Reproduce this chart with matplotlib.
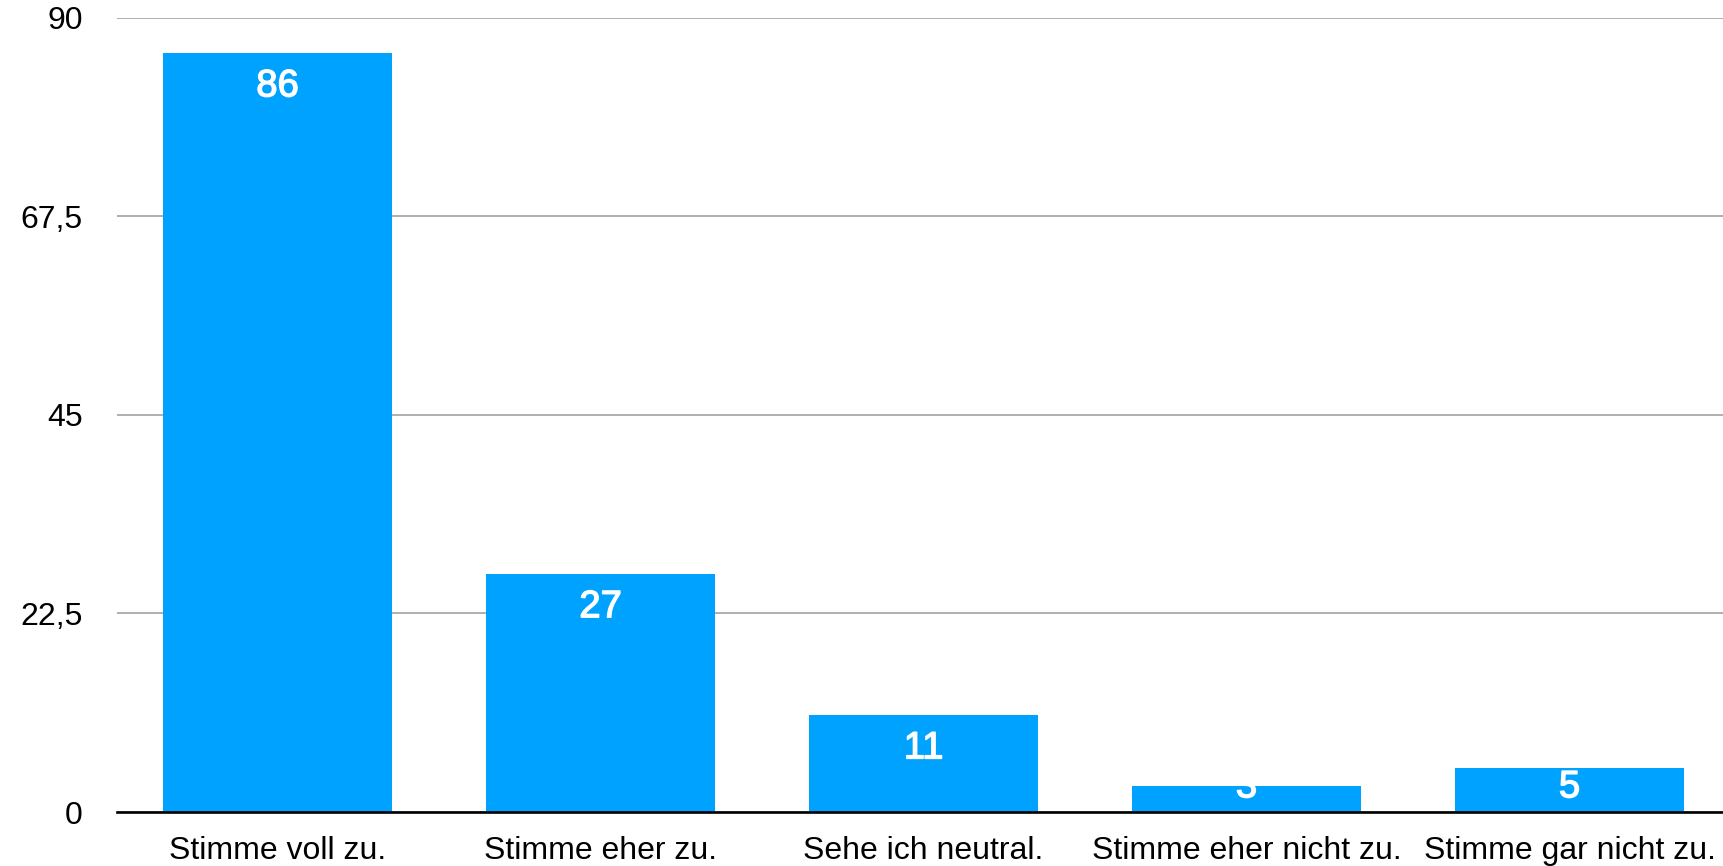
import matplotlib
matplotlib.use("Agg")
import matplotlib.pyplot as plt
import matplotlib.patheffects as pe

plt.rcParams['font.family'] = ['Liberation Sans', 'DejaVu Sans']

# data
categories = ["Stimme voll zu.", "Stimme eher zu.", "Sehe ich neutral.",
              "Stimme eher nicht zu.", "Stimme gar nicht zu."]
counts = [86, 27, 11, 3, 5]
yticks = [0, 22.5, 45, 67.5, 90]
ytick_labels = ["0", "22,5", "45", "67,5", "90"]

bar_color = "#00A2FF"

fig = plt.figure(figsize=(17.24, 8.66), dpi=100)
ax = fig.add_axes([117 / 1724, 1 - 812 / 866, 1 - 117 / 1724, (812 - 17.5) / 866])

x = list(range(len(categories)))
ax.bar(x, counts, width=0.71, color=bar_color, zorder=2)

ax.set_xlim(-0.497, 4.478)
ax.set_ylim(0, 90)

# grid
ax.set_yticks(yticks)
ax.set_yticklabels(ytick_labels)
ax.yaxis.grid(True, color="#9a9a9a", linewidth=1.1, zorder=0)
ax.set_axisbelow(True)

for s in ["top", "right", "left"]:
    ax.spines[s].set_visible(False)
ax.spines["bottom"].set_color("black")
ax.spines["bottom"].set_linewidth(1.9)
ax.spines["bottom"].set_zorder(3)

ax.set_xticks(x)
ax.set_xticklabels(categories)
ax.tick_params(axis="x", length=0, pad=17, labelsize=23)
ax.tick_params(axis="y", length=0, pad=24.5, labelsize=23)

# value labels inside bars (clamped near baseline for short bars)
for i, v in zip(x, counts):
    y = max(v - 3.8, 2.8)
    ax.text(i, y, str(v), ha="center", va="center", color="white",
            fontsize=27.5, zorder=4,
            path_effects=[pe.withStroke(linewidth=1.0, foreground="white")])

fig.savefig("out.png", dpi=100)
